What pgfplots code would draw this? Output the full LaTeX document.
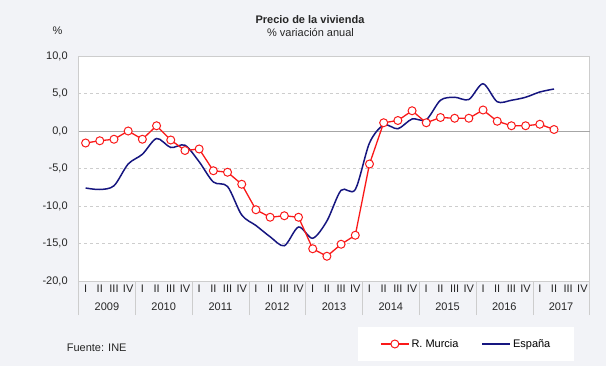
\documentclass[border=0pt]{standalone}
\usepackage{pgfplots}
\pgfplotsset{compat=1.18}
\usepackage{fontspec}
\setmainfont{Liberation Sans}
\definecolor{bg}{RGB}{242,243,247}
\definecolor{murcia}{RGB}{250,25,25}
\definecolor{espana}{RGB}{22,22,128}
\definecolor{gridc}{RGB}{205,205,205}
\begin{document}
\fontsize{11bp}{13bp}\selectfont
\begin{tikzpicture}
\fill[bg] (0bp,0bp) rectangle (606bp,366bp);
\useasboundingbox (0bp,0bp) rectangle (606bp,366bp);
\begin{axis}[
  at={(78.5bp,85bp)}, anchor=south west,
  width=511bp, height=225bp, scale only axis,
  xmin=0, xmax=36, ymin=-20, ymax=10,
  clip mode=individual,
  axis background/.style={fill=white},
  axis line style={gridc},
  tick pos=left,
  ytick={-20,-15,...,10},
  yticklabel style={/pgf/number format/fixed, /pgf/number format/fixed zerofill, /pgf/number format/precision=1, /pgf/number format/use comma, /pgf/number format/assume math mode=true, xshift=-7bp, text=black!85},
  ymajorgrids, major grid style={gridc, dashed},
  extra y ticks={0}, extra y tick labels={},
  extra y tick style={grid=major, major grid style={solid, black!35, line width=0.8bp}},
  xtick={0.5,1.5,...,35.5},
  xticklabels={I,II,III,IV,I,II,III,IV,I,II,III,IV,I,II,III,IV,I,II,III,IV,I,II,III,IV,I,II,III,IV,I,II,III,IV,I,II,III,IV},
  xticklabel style={text=black!85},
  extra x ticks={0,4,...,36}, extra x tick labels={},
  extra x tick style={major tick length=34bp, tick align=outside, tick style={draw=gridc, thin}, grid=none},
  major tick length=0pt,
  tick style={draw=none},
  reverse legend,
  legend style={at={(0.547,-0.2044)}, anchor=north west, draw=none, fill=white,
    legend columns=2, inner xsep=22bp, inner ysep=10bp,
    /tikz/every even column/.append style={column sep=21bp}},
  legend image code/.code={\draw[mark repeat=2,mark phase=2,#1] plot coordinates {(0bp,0bp) (14bp,0bp) (28bp,0bp)};},
]
\addplot[espana, line width=1.5bp, smooth, tension=0.5] coordinates {
(0.5,-7.6) (1.5,-7.8) (2.5,-7.3) (3.5,-4.4) (4.5,-3.1) (5.5,-1.0) (6.5,-2.2) (7.5,-1.9)
(8.5,-4.1) (9.5,-6.8) (10.5,-7.4) (11.5,-11.2) (12.5,-12.6) (13.5,-14.1) (14.5,-15.3) (15.5,-12.8)
(16.5,-14.3) (17.5,-12.0) (18.5,-7.9) (19.5,-7.8) (20.5,-1.6) (21.5,0.8) (22.5,0.3) (23.5,1.6)
(24.5,1.5) (25.5,4.1) (26.5,4.5) (27.5,4.2) (28.5,6.3) (29.5,3.9) (30.5,4.1) (31.5,4.5)
(32.5,5.2) (33.5,5.6)};
\addlegendentry{España}
\addplot[murcia, line width=1.3bp, mark=*, mark size=4bp, mark options={fill=white, draw=murcia, line width=1bp}] coordinates {
(0.5,-1.6) (1.5,-1.3) (2.5,-1.1) (3.5,0.0) (4.5,-1.1) (5.5,0.7) (6.5,-1.2) (7.5,-2.6)
(8.5,-2.4) (9.5,-5.3) (10.5,-5.5) (11.5,-7.1) (12.5,-10.5) (13.5,-11.5) (14.5,-11.3) (15.5,-11.5)
(16.5,-15.7) (17.5,-16.7) (18.5,-15.1) (19.5,-13.9) (20.5,-4.4) (21.5,1.1) (22.5,1.4) (23.5,2.7)
(24.5,1.1) (25.5,1.8) (26.5,1.7) (27.5,1.7) (28.5,2.8) (29.5,1.3) (30.5,0.7) (31.5,0.7)
(32.5,0.9) (33.5,0.2)};
\addlegendentry{R. Murcia}
\pgfplotsinvokeforeach{0,...,8}{
  \node[text=black!85] at (axis cs:{4*#1+2},-20) [yshift=-25.5bp] {\number\numexpr2009+#1\relax};
}
\end{axis}
\node[font=\bfseries, text=black!85] at (310bp,346bp) {Precio de la vivienda};
\node[text=black!85] at (310.5bp,333bp) {\% variación anual};
\node[text=black!85] at (57.5bp,335bp) {\%};
\node[anchor=west, text=black!85] at (63bp,18bp) {Fuente: INE};
\end{tikzpicture}
\end{document}
